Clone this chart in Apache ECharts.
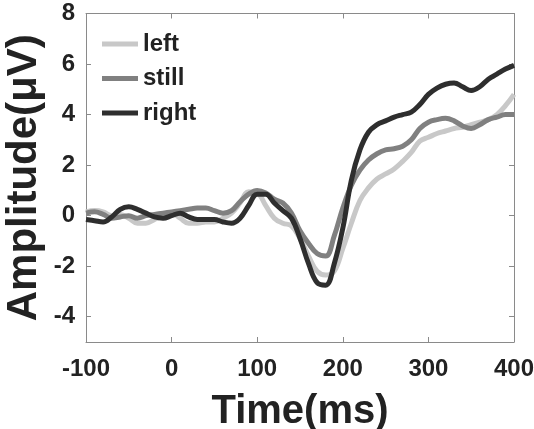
<!DOCTYPE html>
<html>
<head>
<meta charset="utf-8">
<script src="https://cdn.jsdelivr.net/npm/echarts@6/dist/echarts.min.js"></script>
<style>
html,body{margin:0;padding:0;background:#fff;}
#c{width:534px;height:429px;}
</style>
</head>
<body>
<div id="c"></div>
<script>
const times = [-100,-90,-80,-70,-60,-50,-40,-30,-20,-10,0,10,20,30,40,50,60,70,80,90,100,110,120,130,140,150,160,170,180,190,200,210,220,230,240,250,260,270,280,290,300,310,320,330,340,350,360,370,380,390,400];
const leftVals = [0.15,0.2,0.15,0.0,0.05,-0.1,-0.3,-0.3,-0.15,0.0,0.1,-0.1,-0.3,-0.3,-0.25,-0.25,-0.1,0.1,0.5,0.95,0.9,0.4,-0.1,-0.3,-0.4,-0.9,-1.6,-2.2,-2.35,-2.2,-1.3,-0.3,0.6,1.1,1.45,1.65,1.85,2.15,2.5,2.95,3.1,3.25,3.35,3.45,3.5,3.6,3.7,3.8,4.0,4.35,4.8];
const stillVals = [0.1,0.15,0.05,-0.1,-0.05,0.0,-0.1,0.0,0.05,0.1,0.15,0.2,0.25,0.3,0.3,0.2,0.1,0.2,0.55,0.85,1.0,0.9,0.65,0.5,0.1,-0.6,-1.1,-1.5,-1.6,-0.8,0.3,1.2,1.8,2.2,2.45,2.6,2.65,2.75,3.0,3.45,3.7,3.8,3.85,3.75,3.55,3.45,3.6,3.8,3.9,4.0,4.0];
const rightVals = [-0.15,-0.2,-0.25,-0.05,0.25,0.35,0.25,0.1,-0.05,-0.1,0.0,0.1,-0.05,-0.15,-0.15,-0.15,-0.25,-0.3,-0.1,0.4,0.85,0.85,0.5,0.2,-0.1,-0.9,-1.9,-2.65,-2.75,-1.9,-0.5,1.4,2.6,3.3,3.6,3.75,3.9,4.0,4.1,4.4,4.8,5.05,5.2,5.25,5.1,4.95,5.1,5.4,5.6,5.8,5.95];
const seriesNames = ['left','still','right'];
const seriesColors = ['#c8c8c8','#808080','#2e2e2e'];
const yTicks = [-4,-2,0,2,4,6,8];

const font = 'Liberation Sans, Arial, Helvetica, sans-serif';
const axisColor = '#8a8a8a';
const textColor = '#222';

function pairs(vals){ return times.map((t,i)=>[t, vals[i]]); }

const chart = echarts.init(document.getElementById('c'), null, {renderer:'canvas'});
const line = {show:true, onZero:false, lineStyle:{color:axisColor, width:1}};
function tick(custom){
  const t = {show:true, inside:true, length:5, lineStyle:{color:axisColor}};
  if (custom) t.customValues = custom;
  return t;
}
chart.setOption({
  animation:false,
  backgroundColor:'#fff',
  grid:{left:86, right:20, top:13.5, bottom:87, containLabel:false, outerBoundsMode:'none'},
  legend:{
    left:97, top:27, orient:'vertical', itemWidth:36, itemHeight:5, itemGap:10.5,
    icon:'rect',
    textStyle:{fontFamily:font, fontWeight:'bold', fontSize:24, color:textColor, lineHeight:22, padding:[0,0,0,0]},
    data:seriesNames
  },
  xAxis:[
    {type:'value', min:-100, max:400, interval:100, position:'bottom',
      axisLine:line, axisTick:tick(), splitLine:{show:false},
      name:'Time(ms)', nameLocation:'middle', nameGap:50, nameMoveOverlap:false,
      nameTextStyle:{fontFamily:font, fontWeight:'bold', fontSize:40, color:textColor, verticalAlign:'top'},
      axisLabel:{fontFamily:font, fontWeight:'bold', fontSize:24, color:textColor, margin:15}},
    {type:'value', min:-100, max:400, interval:100, position:'top',
      axisLine:line, axisTick:tick(), splitLine:{show:false}, axisLabel:{show:false}}
  ],
  yAxis:[
    {type:'value', min:-5, max:8, interval:1, position:'left',
      axisLine:line, axisTick:tick(yTicks), splitLine:{show:false},
      name:'Amplitude(μV)', nameLocation:'middle', nameGap:41, nameRotate:90, nameMoveOverlap:false,
      nameTextStyle:{fontFamily:font, fontWeight:'bold', fontSize:42, color:textColor, verticalAlign:'bottom'},
      axisLabel:{fontFamily:font, fontWeight:'bold', fontSize:24, color:textColor, margin:11, customValues:yTicks}},
    {type:'value', min:-5, max:8, interval:1, position:'right',
      axisLine:line, axisTick:tick(yTicks), splitLine:{show:false}, axisLabel:{show:false}}
  ],
  series:[leftVals, stillVals, rightVals].map((vals,i)=>({
    name:seriesNames[i], type:'line', data:pairs(vals), smooth:0.4, showSymbol:false,
    xAxisIndex:0, yAxisIndex:0,
    lineStyle:{color:seriesColors[i], width:5}, itemStyle:{color:seriesColors[i]}
  }))
});
</script>
</body>
</html>
